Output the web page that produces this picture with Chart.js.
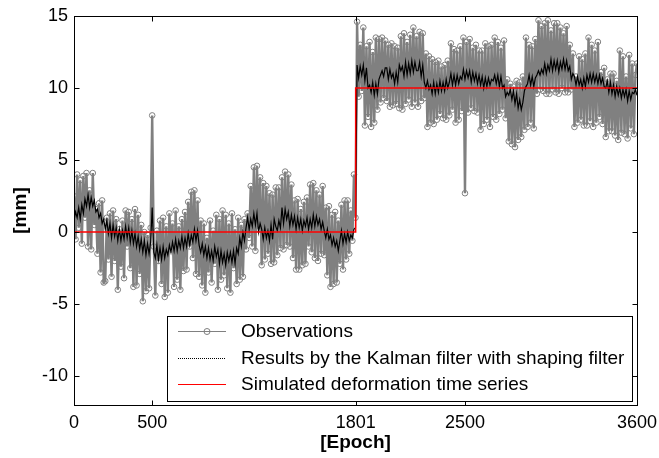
<!DOCTYPE html>
<html>
<head>
<meta charset="utf-8">
<script src="https://cdn.jsdelivr.net/npm/chart.js@4.4.1/dist/chart.umd.min.js"></script>
<style>
  html, body { margin: 0; padding: 0; background: #fff; }
  #wrap { width: 659px; height: 458px; }
</style>
</head>
<body>
<div id="wrap"><canvas id="chart" width="659" height="458"></canvas></div>
<script>
// samples every 10 epochs
const sampleStep = 10;

const observations = [
    2.5, -0.5, 4.0, 0.3, 3.6, -0.8, 3.9, 1.0, 4.1, -1.0, 2.9, -1.2, 4.1, 0.5, 1.6, -1.5, 2.0, -2.8, 2.2, -3.5,
    -3.4, 1.0, -1.9, 1.3, -3.1, 1.5, -2.0, 0.9, -4.0, 0.2, -2.4, 0.8, -3.2, 1.5, -1.0, 1.4, -2.5, 0.9, -3.8, 1.6,
    -3.7, 1.2, -2.9, 0.5, -4.8, 0.0, -4.1, -0.2, -3.9, 0.3, 8.1, -1.0, -4.4, 0.1, -2.0, 0.8, -3.6, 1.0, -4.5, 0.4,
    -4.2, 1.3, -1.2, 0.6, -3.8, 1.5, -3.3, 0.4, -4.0, 0.9, -2.7, 1.4, -2.6, 2.1, -1.0, 2.8, -1.8, 2.9, -2.9, 2.2,
    -3.1, 0.8, -3.7, 0.6, -4.2, -0.4, -2.8, 0.8, -3.5, 0.1, -2.2, 1.2, -4.0, 0.9, -3.3, 1.5, -3.0, 1.2, -3.9, 0.6,
    -4.2, 1.3, -2.5, 0.2, -3.6, 1.0, -3.3, 0.5, -3.1, 0.9, -1.2, 1.3, -0.4, 3.2, -1.0, 4.5, -1.3, 4.6, 0.2, 3.8,
    -2.3, 3.4, -1.9, 3.2, -1.5, 2.7, -2.2, 2.6, -2.1, 3.1, -1.6, 3.1, -1.1, 3.8, -1.2, 4.2, -0.9, 4.0, -1.0, 3.3,
    -1.8, 2.2, -2.6, 2.3, -2.6, 1.6, -2.3, 2.1, -2.2, 2.4, -1.0, 3.3, -1.4, 3.4, -1.8, 2.9, -2.0, 2.6, -1.5, 3.2,
    -1.6, 1.7, -3.0, 1.8, -3.8, 1.2, -3.6, 1.4, -3.5, 0.8, -2.2, 1.9, -2.6, 2.2, -1.9, 2.2, -1.5, 1.5, -0.6, 4.0,
    1.0, 14.6, 9.4, 13.0, 9.8, 14.2, 7.4, 12.9, 8.0, 13.2, 7.3, 12.5, 7.6, 13.5, 8.5, 13.4, 9.0, 13.5, 9.3, 13.3,
    9.1, 13.0, 8.7, 13.1, 8.8, 12.9, 8.9, 12.8, 8.6, 13.6, 8.5, 13.8, 8.9, 13.2, 9.2, 13.7, 8.7, 14.2, 9.0, 13.6,
    8.7, 13.9, 9.1, 13.8, 9.3, 12.4, 7.3, 12.2, 7.6, 12.0, 7.5, 11.8, 7.8, 11.9, 8.2, 11.5, 7.9, 11.6, 7.8, 11.9,
    8.1, 13.1, 8.5, 12.7, 7.6, 12.6, 7.8, 12.9, 8.4, 13.5, 2.7, 13.2, 8.3, 13.4, 8.6, 12.8, 8.4, 13.0, 8.3, 12.6,
    7.1, 12.6, 7.5, 13.1, 7.8, 12.9, 7.3, 13.0, 8.0, 13.5, 7.8, 13.2, 8.2, 12.8, 8.5, 13.3, 7.9, 10.6, 6.3, 10.3,
    6.1, 10.1, 5.9, 10.5, 6.4, 10.4, 6.6, 10.8, 7.1, 13.5, 7.3, 13.0, 7.6, 12.9, 7.2, 13.4, 9.6, 14.7, 9.9, 14.3,
    9.8, 14.5, 9.6, 14.7, 9.6, 14.0, 9.9, 14.5, 9.7, 14.5, 9.6, 14.2, 10.0, 13.8, 9.7, 14.3, 9.7, 13.0, 9.9, 12.4,
    7.3, 10.8, 7.6, 12.2, 7.8, 12.0, 7.4, 12.4, 7.4, 13.5, 7.7, 13.0, 7.3, 12.6, 7.6, 13.2, 8.0, 11.1, 7.5, 11.4,
    6.6, 10.6, 7.0, 11.0, 7.0, 11.0, 6.7, 10.5, 6.4, 12.6, 6.9, 12.2, 6.8, 10.8, 6.5, 12.3, 7.2, 11.7, 6.8, 10.9,
    11.7
];

const kalmanResults = [
    0.8, 1.4, 1.0, 1.7, 0.9, 1.9, 1.3, 2.3, 1.8, 2.6, 1.7, 2.4, 1.8, 2.2, 1.4, 1.6, 1.0, 1.3, 0.6, 0.9,
    0.2, 0.8, -0.1, 0.6, -0.4, 0.5, -0.3, 0.3, -0.6, 0.2, -0.6, 0.1, -0.5, 0.4, -0.4, 0.3, -0.7, 0.1, -0.8, -0.1,
    -1.0, -0.3, -1.2, -0.5, -1.4, -0.6, -1.6, -0.8, -1.5, -0.7, 1.7, -1.4, -1.8, -0.9, -1.9, -1.1, -1.9, -1.0, -1.8, -1.2,
    -1.6, -0.9, -1.4, -0.7, -1.3, -0.5, -1.3, -0.6, -1.1, -0.3, -1.1, -0.4, -1.0, -0.1, -0.9, -0.2, -0.7, 0.2, -0.6, 0.1,
    -0.9, -1.4, -0.8, -1.6, -1.0, -1.8, -1.1, -1.9, -1.3, -2.0, -1.0, -1.7, -1.2, -2.2, -1.3, -2.1, -1.5, -2.3, -1.4, -2.0,
    -1.4, -2.1, -1.3, -2.2, -1.1, -1.5, -0.4, -1.0, 0.0, -0.6, 0.3, 1.0, 0.2, 0.9, 0.4, 1.3, 0.5, 1.3, 0.0, 0.6,
    0.2, -0.5, 0.3, -0.4, 0.1, -0.6, 0.5, -0.5, 0.9, 0.4, 0.1, 0.8, 0.3, 1.7, 0.6, 1.6, 0.9, 1.4, 0.4, 1.2,
    0.5, 1.1, 0.2, 1.0, 0.3, 0.9, 0.1, 0.8, 0.4, 1.0, 0.2, 0.9, 0.3, 1.2, 0.4, 1.1, 0.5, 0.9, 0.2, 0.7,
    0.1, -0.4, 0.2, -0.5, -0.2, -0.9, -0.4, -1.0, -0.6, -1.3, -0.6, 0.1, -0.8, -0.1, -0.7, 0.0, -0.6, -0.2, -0.4, 0.2,
    0.3, 11.6, 10.7, 11.5, 10.9, 11.6, 10.5, 11.4, 10.0, 10.2, 9.7, 10.4, 9.5, 10.3, 9.6, 10.6, 10.9, 11.2, 10.8, 11.4,
    11.4, 10.6, 11.3, 10.7, 11.0, 10.3, 11.1, 10.4, 11.6, 11.2, 11.5, 10.8, 11.8, 10.9, 11.7, 11.0, 11.9, 11.1, 11.8, 11.2,
    11.2, 11.8, 10.8, 11.6, 10.4, 10.0, 10.5, 9.9, 10.2, 9.6, 10.4, 9.6, 10.3, 9.7, 10.5, 9.8, 10.4, 9.8, 10.6, 10.0,
    10.4, 11.0, 10.2, 10.9, 10.2, 10.9, 10.3, 10.8, 10.6, 11.3, 10.6, 11.2, 10.7, 11.2, 10.4, 11.1, 10.5, 11.0, 10.3, 10.9,
    10.2, 10.8, 10.0, 10.7, 10.1, 10.7, 10.2, 10.6, 10.5, 10.9, 10.3, 10.9, 10.1, 10.8, 10.0, 10.2, 9.4, 9.7, 9.5, 9.9,
    9.2, 9.8, 8.9, 9.6, 8.6, 9.2, 8.5, 9.0, 9.8, 10.1, 10.3, 10.9, 10.2, 10.8, 10.1, 10.7, 10.9, 11.2, 10.9, 11.3,
    11.0, 11.7, 11.0, 11.6, 11.2, 12.0, 11.2, 11.9, 11.3, 11.9, 11.1, 11.8, 11.3, 12.0, 11.3, 11.9, 11.2, 11.5, 10.6, 11.0,
    10.8, 10.2, 10.8, 10.2, 10.6, 10.0, 10.7, 10.1, 10.9, 10.4, 11.0, 10.4, 11.0, 10.4, 10.9, 10.3, 10.9, 10.3, 10.7, 10.1,
    10.0, 10.5, 9.7, 10.4, 9.6, 10.2, 9.4, 10.1, 9.5, 10.0, 9.3, 9.9, 9.4, 9.9, 9.1, 9.8, 9.2, 9.7, 9.6, 9.9,
    9.5
];

const deformEpochs = [0, 1801, 1801, 3600];
const deformValues = [0, 0, 10, 10];

const xTickValues = [0, 500, 1801, 2500, 3600];
const yTickValues = [-10, -5, 0, 5, 10, 15];

const seriesLabels = [
    "Observations",
    "Results by the Kalman filter with shaping filter",
    "Simulated deformation time series",
];

const FONT = "'Liberation Sans', Arial, sans-serif";
const GRAY = "#808080";
const RED = "#ff0000";

const toPoints = (vals) => vals.map((v, i) => ({ x: i * sampleStep, y: v }));

// box round the plot, inward ticks, and the boxed legend inside the plot
const matlabFrame = {
    id: "matlabFrame",
    afterDraw(chart) {
        const { ctx, chartArea: a, scales } = chart;
        const L = Math.round(a.left) + 0.5;
        const R = Math.round(a.right) + 0.5;
        const T = Math.round(a.top) + 0.5;
        const B = Math.round(a.bottom) + 0.5;
        ctx.save();
        ctx.strokeStyle = "#000";
        ctx.lineWidth = 1;
        ctx.beginPath();
        xTickValues.forEach((v) => {
            const px = Math.round(scales.x.getPixelForValue(v)) + 0.5;
            ctx.moveTo(px, B);
            ctx.lineTo(px, B - 5);
            ctx.moveTo(px, T);
            ctx.lineTo(px, T + 5);
        });
        yTickValues.forEach((v) => {
            const py = Math.round(scales.y.getPixelForValue(v)) + 0.5;
            ctx.moveTo(L, py);
            ctx.lineTo(L + 5, py);
            ctx.moveTo(R, py);
            ctx.lineTo(R - 5, py);
        });
        ctx.stroke();
        ctx.strokeRect(L, T, R - L, B - T);

        // legend
        const bx = 167.5, by = 316.5, bw = 465, bh = 85;
        ctx.fillStyle = "#fff";
        ctx.fillRect(bx, by, bw, bh);
        ctx.strokeRect(bx, by, bw, bh);
        const rows = [331, 358, 384];
        const ds = chart.data.datasets;
        ctx.font = "19px " + FONT;
        ctx.textBaseline = "middle";
        ctx.textAlign = "left";
        rows.forEach((yy, i) => {
            const d = ds[i];
            ctx.save();
            ctx.strokeStyle = d.borderColor;
            ctx.lineWidth = 1;
            if (i === 1) ctx.setLineDash([1, 1]);
            ctx.beginPath();
            ctx.moveTo(178, yy + 0.5);
            ctx.lineTo(226, yy + 0.5);
            ctx.stroke();
            ctx.restore();
            if (i === 0) {
                ctx.strokeStyle = GRAY;
                ctx.beginPath();
                ctx.arc(207, yy + 0.5, 3, 0, Math.PI * 2);
                ctx.stroke();
                ctx.strokeStyle = "#000";
            }
            ctx.fillStyle = "#000";
            ctx.fillText(d.label, 241, yy + 1);
        });
        ctx.restore();
    },
};

new Chart(document.getElementById("chart"), {
    type: "line",
    data: {
        datasets: [
            {
                label: seriesLabels[0],
                data: toPoints(observations),
                borderColor: GRAY,
                borderWidth: 2.4,
                pointRadius: 2.8,
                pointBorderWidth: 1,
                pointBorderColor: GRAY,
                pointBackgroundColor: "rgba(0,0,0,0)",
                tension: 0,
                order: 3,
            },
            {
                label: seriesLabels[1],
                data: toPoints(kalmanResults),
                borderColor: "#000",
                borderWidth: 1.2,
                pointRadius: 0,
                tension: 0,
                order: 2,
            },
            {
                label: seriesLabels[2],
                data: deformEpochs.map((e, i) => ({ x: e, y: deformValues[i] })),
                borderColor: RED,
                borderWidth: 1.5,
                pointRadius: 0,
                tension: 0,
                order: 1,
            },
        ],
    },
    options: {
        responsive: false,
        animation: false,
        layout: { padding: { top: 16, right: 22, left: 0, bottom: 0 } },
        plugins: { legend: { display: false }, tooltip: { enabled: false } },
        scales: {
            x: {
                type: "linear",
                min: 0,
                max: 3600,
                afterBuildTicks: (s) => { s.ticks = xTickValues.map((v) => ({ value: v })); },
                afterFit: (s) => { s.height = 53; s.paddingLeft = 0; s.paddingRight = 0; },
                grid: { display: false, drawTicks: false },
                border: { display: false },
                ticks: {
                    color: "#000", font: { family: FONT, size: 18 }, padding: 7,
                    maxRotation: 0, autoSkip: false, callback: (v) => String(v),
                },
                title: {
                    display: true, text: "[Epoch]", color: "#000",
                    font: { family: FONT, size: 19, weight: "bold" },
                    padding: { top: 0, bottom: 4 },
                },
            },
            y: {
                type: "linear",
                min: -12,
                max: 15,
                afterBuildTicks: (s) => { s.ticks = yTickValues.map((v) => ({ value: v })); },
                afterFit: (s) => { s.width = 74; s.paddingTop = 0; s.paddingBottom = 0; },
                grid: { display: false, drawTicks: false },
                border: { display: false },
                ticks: { color: "#000", font: { family: FONT, size: 18 }, padding: 6, callback: (v) => String(v) },
                title: {
                    display: true, text: "[mm]", color: "#000",
                    font: { family: FONT, size: 19, weight: "bold" },
                    padding: { top: 9, bottom: 0 },
                },
            },
        },
    },
    plugins: [matlabFrame],
});
</script>
</body>
</html>
